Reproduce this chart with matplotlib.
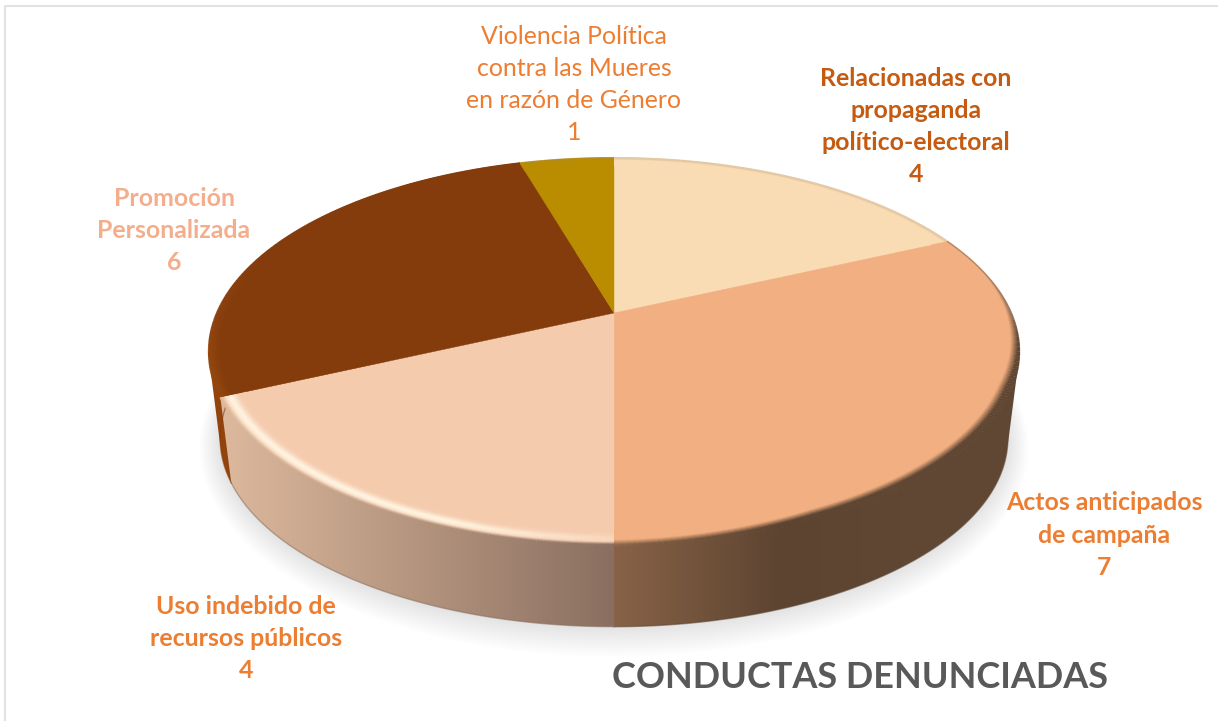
import numpy as np
import matplotlib
matplotlib.use("Agg")
import matplotlib.pyplot as plt
from matplotlib.colors import LinearSegmentedColormap, to_rgb
from matplotlib.patches import Polygon
from matplotlib.collections import LineCollection

# ---- data -------------------------------------------------------------
categories = [
    ["Relacionadas con", "propaganda", "político-electoral"],
    ["Actos anticipados", "de campaña"],
    ["Uso indebido de", "recursos públicos"],
    ["Promoción", "Personalizada"],
    ["Violencia Política", "contra las Mueres", "en razón de Género"],
]
values = [4, 7, 4, 6, 1]
title = "CONDUCTAS DENUNCIADAS"

# ---- style ------------------------------------------------------------
face_colors = ["#F9DCB4", "#F2AF81", "#F5CBAE", "#843C0C", "#BA8C00"]
wall_stops = [
    ["#F9DCB4", "#F9DCB4"],
    ["#886247", "#5C4431", "#604733", "#604733"],
    ["#DDB99D", "#8A6F60"],
    ["#94450C", "#843C0C"],
    ["#BA8C00", "#BA8C00"],
]
wall_order = [2.10, 2.12, 2.14, 2.11, 2.09]
label_colors = ["#C55A11", "#ED7D31", "#ED7D31", "#F4AE8C", "#ED7D31"]
label_weights = ["bold", "bold", "bold", "bold", "normal"]
label_centers = [916, 1104, 246, 174, 574]
label_tops = [78, 503, 606, 198, 36]
LINE_H = 32.3
FONT = "Lato"

fig = plt.figure(figsize=(12.18, 7.21), dpi=100, facecolor="white")
ax = fig.add_axes([0, 0, 1, 1])
ax.set_xlim(0, 1218)
ax.set_ylim(721, 0)
ax.axis("off")

K = 0.199


def project(theta, r=1.0, cx=614.0, cy=313.0, bx=397.0, ay=185.8):
    u, v = r * np.sin(theta), r * np.cos(theta)
    s = 1.0 / (1.0 + K * v)
    return cx + bx * u * s, cy - ay * v * s


def lower(theta, grow=0.0, shift=0.0):
    return project(theta, 1.0, 614.0, 401.0 + shift, 386.0 + grow, 180.8 + grow)


def hull(points):
    pts = sorted(map(tuple, points))

    def half(seq):
        out = []
        for p in seq:
            while len(out) > 1 and ((out[-1][0] - out[-2][0]) * (p[1] - out[-2][1])
                                    - (out[-1][1] - out[-2][1]) * (p[0] - out[-2][0])) <= 0:
                out.pop()
            out.append(p)
        return out[:-1]

    return np.array(half(pts) + half(pts[::-1]))


def mix(a, b, t):
    a, b = np.array(to_rgb(a)), np.array(to_rgb(b))
    return a + (b - a) * np.clip(t, 0, 1)


edges = np.cumsum([0] + values) / sum(values) * 2 * np.pi

# border of the original picture
ax.plot([5, 5, 1218], [721, 6, 6], color="#E2E2E2", lw=1.5, zorder=0)

# soft shadow below the disc
full = np.linspace(0, 2 * np.pi, 360)
for d in np.linspace(1, 20, 14):
    x, y = lower(full, grow=d, shift=d * 0.25)
    ax.fill(x, y, color="black", alpha=0.0095, lw=0, zorder=1)

# side walls
wall_cmaps = []
wall_ranges = []
for i in range(len(values)):
    th = np.linspace(edges[i], edges[i + 1], 200)
    xt, yt = project(th)
    xb, yb = lower(th)
    pts = hull(np.column_stack([np.r_[xt, xb], np.r_[yt, yb]]))
    poly = Polygon(pts, closed=True, fc="none", ec="none", zorder=2)
    ax.add_patch(poly)
    xmin, xmax = pts[:, 0].min(), pts[:, 0].max()
    stops = wall_stops[i]
    if i == 1:
        pos = [0.0, (782 - xmin) / (xmax - xmin), (900 - xmin) / (xmax - xmin), 1.0]
        cmap = LinearSegmentedColormap.from_list("w", list(zip(pos, stops)))
    else:
        cmap = LinearSegmentedColormap.from_list("w", stops)
    wall_cmaps.append(cmap)
    wall_ranges.append((xmin, xmax))
    im = ax.imshow(np.linspace(0, 1, 256).reshape(1, -1), cmap=cmap, aspect="auto",
                   extent=[xmin, xmax, pts[:, 1].max(), pts[:, 1].min()],
                   zorder=wall_order[i])
    im.set_clip_path(poly)
    ax.plot(xb, yb, color=stops[-1], lw=1.0, alpha=0.55, zorder=2.2)
ax.set_xlim(0, 1218)
ax.set_ylim(721, 0)

# top faces
for i in range(len(values)):
    th = np.linspace(edges[i], edges[i + 1], 200)
    x, y = project(th)
    ax.fill(np.r_[614, x], np.r_[313, y], color=face_colors[i], lw=0.3, zorder=3)

# bevel along the rim
R0 = 0.945
rs = np.linspace(R0, 1.0, 20)
for i in range(len(values)):
    th = np.linspace(edges[i], edges[i + 1], 160)
    mids = (th[:-1] + th[1:]) / 2
    xmin, xmax = wall_ranges[i]
    for r in rs:
        x, y = project(th, r)
        segs = np.stack([np.column_stack([x[:-1], y[:-1]]),
                         np.column_stack([x[1:], y[1:]])], axis=1)
        xm = (x[:-1] + x[1:]) / 2
        p = (r - R0) / (1 - R0)
        cols = []
        for m, xx in zip(mids, xm):
            wall = np.array(wall_cmaps[i]((xx - xmin) / (xmax - xmin))[:3])
            if i == 2:
                w = 0.3 + 0.7 * np.clip((m - np.pi) / 0.35, 0, 1)
                ridge = np.exp(-((p - 0.62) / 0.24) ** 2)
                c = mix(face_colors[2], "#FFF4E0", ridge * w)
                c = c + (wall - c) * np.clip((p - 0.82) / 0.18, 0, 1)
            elif i == 1:
                deg = np.degrees(m)
                center = np.interp(deg, [60, 88, 112, 155, 180],
                                   [1.02, 1.0, 0.978, 0.975, 0.993])
                t = np.clip((r - center + 0.009) / 0.018, 0, 1)
                c = np.array(to_rgb(face_colors[1]))
                c = c + (wall - c) * t
            elif i == 3:
                front = np.clip(-np.cos(m) * 1.6 + 0.55, 0, 1)
                c = mix(face_colors[3], "#9A4A10", np.clip((p - 0.5) / 0.5, 0, 1) * 0.8 * front)
            else:
                c = mix(face_colors[i], "#A58A6E", np.clip((p - 0.88) / 0.12, 0, 1) * 0.25)
            cols.append(c)
        ax.add_collection(LineCollection(segs, colors=cols, linewidths=1.5,
                                         capstyle="butt", zorder=3.5))

# thin grey edge on the upper right of the largest slice
th = np.linspace(edges[1], np.radians(92), 80)
ax.plot(*project(th), color="#8E7A6A", lw=0.8, alpha=0.8, zorder=3.6)

# labels
for name, val, col, wt, cx, top in zip(categories, values, label_colors,
                                       label_weights, label_centers, label_tops):
    for j, line in enumerate(list(name) + [str(val)]):
        ax.text(cx, top + j * LINE_H, line, ha="center", va="center", color=col,
                fontsize=17.9, fontweight=wt, family=FONT, zorder=5)

ax.text(859.5, 678, title, ha="center", va="center", color="#595959",
        fontsize=25.9, fontweight="bold", family=FONT, zorder=5)

fig.savefig("out.png", dpi=100)
